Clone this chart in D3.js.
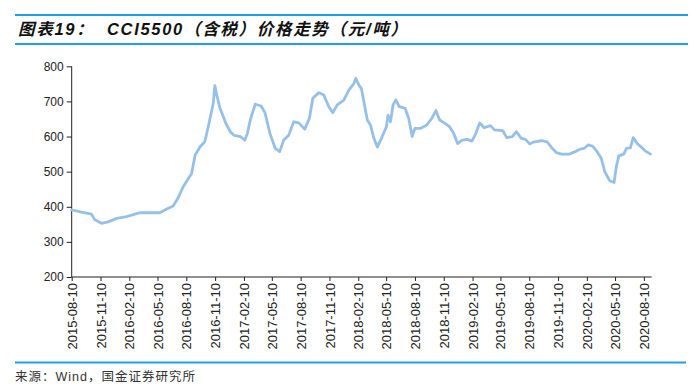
<!DOCTYPE html>
<html>
<head>
<meta charset="utf-8">
<script src="https://cdn.jsdelivr.net/npm/d3@7/dist/d3.min.js"></script>
<style>
  html, body { margin: 0; padding: 0; background: #fff; }
  svg { display: block; }
</style>
</head>
<body>
<svg id="chart" width="700" height="391"></svg>
<script>
// ---- Data ----
const titleText = "图表19：  CCI5500（含税）价格走势（元/吨）";
const sourceText = "来源：Wind，国金证券研究所";

const dates = [
  "2015-08-10","2015-09-10","2015-10-12","2015-10-22","2015-11-13","2015-12-04","2016-01-01",
  "2016-02-01","2016-02-28","2016-03-14","2016-04-10","2016-05-17","2016-06-07","2016-06-29",
  "2016-07-14","2016-07-31","2016-08-27","2016-09-07","2016-09-23","2016-10-08","2016-10-19",
  "2016-11-04","2016-11-09","2016-11-14","2016-11-24","2016-12-13","2016-12-28","2017-01-10",
  "2017-01-30","2017-02-13","2017-02-21","2017-03-03","2017-03-18","2017-04-06","2017-04-18",
  "2017-05-04","2017-05-21","2017-06-04","2017-06-17","2017-07-03","2017-07-19","2017-08-04",
  "2017-08-23","2017-09-07","2017-09-18","2017-10-07","2017-10-23","2017-11-08","2017-11-21",
  "2017-12-05","2017-12-26","2018-01-11","2018-01-27","2018-02-02","2018-02-13","2018-02-20",
  "2018-03-01","2018-03-11","2018-03-21","2018-04-01","2018-04-12","2018-04-25","2018-05-11",
  "2018-05-16","2018-05-24","2018-06-01","2018-06-10","2018-06-21","2018-07-10","2018-07-21",
  "2018-08-01","2018-08-10","2018-08-27","2018-09-17","2018-10-03","2018-10-16","2018-10-28",
  "2018-11-13","2018-11-28","2018-12-12","2018-12-24","2019-01-08","2019-01-24","2019-02-08",
  "2019-02-18","2019-03-05","2019-03-19","2019-04-08","2019-04-21","2019-05-17","2019-05-30",
  "2019-06-17","2019-06-30","2019-07-15","2019-07-29","2019-08-11","2019-08-27","2019-09-18",
  "2019-10-06","2019-10-20","2019-11-05","2019-11-21","2019-12-17","2020-01-03","2020-01-19",
  "2020-02-01","2020-02-14","2020-02-28","2020-03-11","2020-03-27","2020-04-07","2020-04-23",
  "2020-05-07","2020-05-14","2020-05-22","2020-06-07","2020-06-15","2020-06-28","2020-07-07",
  "2020-07-19","2020-08-03","2020-08-13","2020-08-31"
];
const prices = [
  391,385,379,364,353,357,367,
  372,379,383,383,383,393,402,
  424,457,495,547,571,585,628,
  694,745,723,685,640,614,603,
  600,590,609,650,692,687,668,
  609,566,557,590,604,642,639,
  621,652,709,725,718,685,668,
  690,704,732,751,766,745,737,
  694,647,633,595,570,595,628,
  661,642,690,704,685,680,652,
  600,623,623,633,652,674,647,
  638,628,609,580,590,592,587,
  604,639,625,631,619,617,597,
  600,614,595,592,579,585,588,
  585,569,554,550,550,557,564,
  566,576,573,560,538,500,474,
  469,514,545,550,566,568,597,
  581,569,560,550
];
const xTickLabels = [
  "2015-08-10","2015-11-10","2016-02-10","2016-05-10","2016-08-10","2016-11-10",
  "2017-02-10","2017-05-10","2017-08-10","2017-11-10","2018-02-10","2018-05-10",
  "2018-08-10","2018-11-10","2019-02-10","2019-05-10","2019-08-10","2019-11-10",
  "2020-02-10","2020-05-10","2020-08-10"
];
const yTicks = [200, 300, 400, 500, 600, 700, 800];
const xDomain = ["2015-08-10", "2020-09-04"];

// ---- Drawing ----
const parse = d3.timeParse("%Y-%m-%d");
const fmt = d3.timeFormat("%Y-%m-%d");
const data = dates.map((d, i) => ({ date: parse(d), value: prices[i] }));

const svg = d3.select("#chart");
const ruleColor = "#1e9fe6";
const lineColor = "#97c0e8";

// title rules
svg.append("line").attr("x1", 15).attr("x2", 688).attr("y1", 15).attr("y2", 15)
  .attr("stroke", ruleColor).attr("stroke-width", 2);
svg.append("line").attr("x1", 15).attr("x2", 688).attr("y1", 44).attr("y2", 44)
  .attr("stroke", ruleColor).attr("stroke-width", 2);
svg.append("line").attr("x1", 15).attr("x2", 686).attr("y1", 362.5).attr("y2", 362.5)
  .attr("stroke", ruleColor).attr("stroke-width", 2);

svg.append("text")
  .attr("x", 18).attr("y", 35)
  .attr("font-family", "Arial, 'Liberation Sans', 'Noto Sans CJK SC', sans-serif")
  .attr("font-size", 16.5).attr("font-weight", "bold").attr("font-style", "italic")
  .attr("letter-spacing", 1.7)
  .attr("fill", "#111")
  .attr("xml:space", "preserve")
  .style("white-space", "pre")
  .text(titleText);

svg.append("text")
  .attr("x", 15).attr("y", 381)
  .attr("font-family", "Arial, 'Liberation Sans', 'Noto Sans CJK SC', sans-serif")
  .attr("font-size", 12.5).attr("letter-spacing", 1).attr("fill", "#333")
  .text(sourceText);

const x = d3.scaleTime().domain(xDomain.map(parse)).range([71.7, 651.7]);
const y = d3.scaleLinear().domain([200, 800]).range([277, 66.3]);

// y axis
const yAxis = svg.append("g").attr("transform", "translate(71.7,0)")
  .call(d3.axisLeft(y).tickValues(yTicks).tickSize(5).tickPadding(3).tickFormat(d3.format("d")));
yAxis.selectAll("text").attr("font-family", "Arial, 'Liberation Sans', sans-serif")
  .attr("font-size", 12).attr("fill", "#222");
yAxis.selectAll("line, path").attr("stroke", "#222");
yAxis.select(".domain").attr("d", `M0,${y(800)}V${y(200)}`);

// x axis
const xAxis = svg.append("g").attr("transform", `translate(0,${y(200)})`)
  .call(d3.axisBottom(x).tickValues(xTickLabels.map(parse)).tickSize(4).tickFormat(fmt));
xAxis.select(".domain").attr("d", `M${x.range()[0]},0H${x.range()[1]}`);
xAxis.selectAll("line, path").attr("stroke", "#222");
xAxis.selectAll("text")
  .attr("font-family", "Arial, 'Liberation Sans', sans-serif")
  .attr("font-size", 13).attr("fill", "#222")
  .attr("text-anchor", "end")
  .attr("transform", "rotate(-90)")
  .attr("x", -6).attr("y", 0).attr("dy", "0.35em");

// line
const line = d3.line().x(d => x(d.date)).y(d => y(d.value)).curve(d3.curveLinear);
svg.append("path").datum(data)
  .attr("fill", "none").attr("stroke", lineColor).attr("stroke-width", 2.8)
  .attr("stroke-linejoin", "round").attr("stroke-linecap", "round")
  .attr("d", line);
</script>
</body>
</html>
